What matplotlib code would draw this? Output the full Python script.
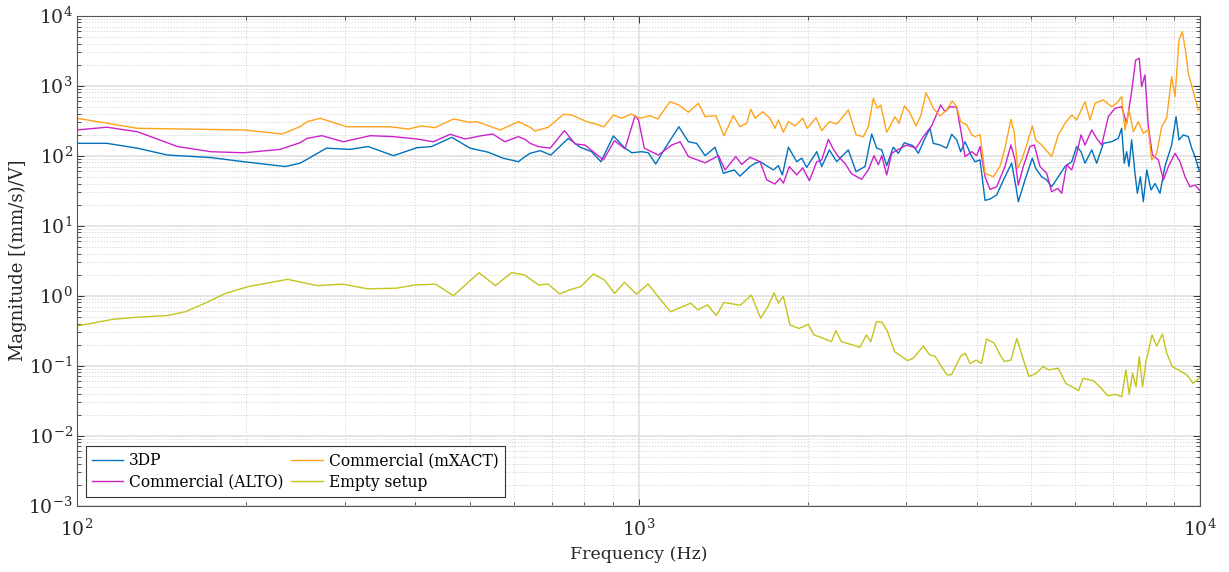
import numpy as np
import matplotlib
matplotlib.use('Agg')
from matplotlib import pyplot as plt
from matplotlib.ticker import LogLocator, NullFormatter, FixedLocator

# 3DP
f_3dp = [100, 113, 128, 145, 173, 198, 235, 249.5, 257, 278, 306, 330, 366, 403, 428, 465, 501, 540,
         574, 611, 628, 641, 668, 698, 750, 787, 825, 857, 902, 946, 973, 1013, 1041, 1073, 1115, 1180,
         1227, 1269, 1314, 1369, 1416, 1481, 1516, 1580, 1613, 1646, 1739, 1774, 1804, 1849, 1913, 1953,
         1993, 2077, 2120, 2187, 2254, 2364, 2440, 2532, 2602, 2656, 2711, 2767, 2843, 2902, 2975, 3086,
         3150, 3237, 3304, 3350, 3443, 3538, 3612, 3687, 3748, 3815, 3922, 3975, 4057, 4141, 4227, 4344,
         4494, 4619, 4696, 4747, 4879, 5027, 5097, 5224, 5332, 5442, 5594, 5749, 5909, 6031, 6139, 6240,
         6415, 6546, 6727, 6960, 7154, 7252, 7330, 7402, 7474, 7555, 7660, 7735, 7832, 7926, 8038, 8180,
         8318, 8487, 8660, 8903, 9065, 9175, 9340, 9533, 9665, 9797, 9960, 10000]
m_3dp = [150, 150, 128, 102, 94, 82, 70, 78, 89, 128, 123, 135, 100, 130, 135, 183, 128, 112,
         92, 82, 97, 108, 118, 102, 177, 132, 114, 82, 191, 128, 110, 114, 110, 76, 128, 259,
         158, 150, 100, 132, 56, 62.5, 51, 70, 78, 82, 62.5, 72, 53, 132, 82, 92,
         68, 114, 70, 121, 82, 121, 59, 70, 204, 128, 121, 72, 132, 108, 153, 138,
         108, 177, 246, 150, 142, 128, 202, 168, 114, 158, 97, 82, 87, 23, 24, 27.5,
         50, 78, 38, 22, 45, 92, 66, 50, 45, 36, 50, 70, 82, 135, 114, 78,
         121, 78, 150, 158, 177, 246, 78, 114, 70, 168, 56, 29, 50, 22, 62.5, 32.4,
         40, 29, 70, 142, 361, 168, 198, 187, 128, 97, 62.5, 60]

# Commercial (ALTO)
f_alto = [100, 113, 128, 151, 173, 198, 230, 249.5, 257, 273, 298, 333, 366, 403, 431, 462, 491, 522,
          550, 578, 611, 628, 641, 663, 696, 738, 771, 803, 837, 866, 906, 946, 986, 1000, 1024, 1084,
          1146, 1186, 1227, 1314, 1388, 1426, 1490, 1527, 1580, 1646, 1692, 1750, 1786, 1811, 1856, 1913,
          1961, 2015, 2077, 2120, 2178, 2218, 2269, 2331, 2396, 2496, 2566, 2627, 2674, 2711, 2767, 2824,
          2902, 3003, 3121, 3215, 3327, 3452, 3515, 3587, 3687, 3753, 3815, 3922, 4002, 4057, 4141, 4227,
          4344, 4494, 4606, 4683, 4747, 4845, 4980, 5069, 5188, 5332, 5442, 5580, 5672, 5789, 5909, 6031,
          6139, 6240, 6415, 6546, 6682, 6866, 7057, 7252, 7402, 7555, 7682, 7795, 7872, 7980, 8091, 8227,
          8431, 8606, 8784, 9026, 9213, 9404, 9598, 9797, 10000]
m_alto = [233, 255, 220, 135, 114, 110, 123, 153, 177, 193, 158, 193, 187, 173, 158, 202, 173, 191,
          204, 158, 187, 171, 150, 135, 128, 228, 147, 142, 108, 87, 164, 125, 373, 324, 128, 102,
          142, 158, 97, 79, 100, 62.5, 97, 75, 95, 82, 45, 39.4, 47.5, 40.4, 70, 53,
          67, 44, 82, 87, 171, 128, 97, 78, 55, 46, 62.5, 100, 74, 100, 53, 108,
          123, 142, 128, 187, 266, 529, 425, 501, 491, 220, 97, 114, 100, 135, 50, 33,
          36, 70, 142, 87, 38, 70, 135, 142, 70, 56, 30.6, 34, 29, 74, 62.5, 108,
          198, 142, 233, 177, 142, 361, 475, 501, 290, 820, 2330, 2460, 968, 1422, 259, 102,
          87, 45, 70, 108, 82, 50, 36, 38, 31.6]

# Commercial (mXACT)
f_mxact = [100, 128, 198, 232, 249.5, 257, 271, 302, 361, 389, 411, 434, 468, 501, 515, 567, 611, 628,
           641, 654, 691, 735, 760, 809, 842, 868, 902, 933, 970, 1006, 1048, 1082, 1138, 1180, 1227, 1278,
           1314, 1373, 1420, 1475, 1516, 1558, 1585, 1613, 1664, 1715, 1750, 1774, 1811, 1849, 1900, 1961,
           1998, 2071, 2120, 2187, 2254, 2301, 2364, 2440, 2514, 2566, 2619, 2662, 2700, 2767, 2863, 2910,
           2975, 3036, 3121, 3185, 3251, 3350, 3443, 3538, 3620, 3687, 3748, 3842, 3922, 3975, 4057, 4141,
           4284, 4403, 4494, 4606, 4670, 4734, 4813, 4913, 5027, 5097, 5224, 5442, 5594, 5749, 5909, 6031,
           6240, 6370, 6501, 6727, 6960, 7105, 7252, 7351, 7474, 7607, 7765, 7926, 8091, 8202, 8372, 8546,
           8722, 8903, 9026, 9175, 9300, 9430, 9533, 9730, 9930, 10000]
m_mxact = [342, 246, 233, 204, 260, 306, 342, 259, 259, 240, 266, 251, 334, 300, 306, 233, 306, 275,
           255, 225, 255, 390, 381, 306, 281, 259, 381, 342, 394, 342, 373, 334, 590, 529, 417, 561,
           361, 373, 193, 373, 259, 290, 460, 342, 425, 342, 246, 324, 216, 306, 266, 342,
           246, 349, 228, 306, 284, 342, 450, 198, 187, 259, 661, 475, 529, 216, 361, 290,
           513, 425, 266, 381, 794, 475, 369, 450, 604, 501, 306, 275, 198, 187, 200, 56,
           50, 70, 128, 331, 209, 66, 87, 142, 266, 168, 142, 97, 198, 290, 381, 324,
           590, 324, 561, 625, 501, 561, 697, 233, 450, 220, 306, 209, 233, 87, 108, 259,
           342, 1345, 697, 4500, 5900, 3060, 1500, 820, 450, 450]

# Empty setup
f_empty = [100, 116, 127, 145, 156, 169, 184, 202, 237, 268, 297, 330, 371, 400, 435, 468, 520, 556,
           594, 626, 664, 690, 724, 754, 789, 831, 869, 907, 944, 992, 1040, 1089, 1140, 1239, 1276, 1326,
           1376, 1419, 1518, 1588, 1650, 1700, 1744, 1774, 1811, 1861, 1932, 2006, 2052, 2109, 2206, 2246,
           2298, 2404, 2479, 2546, 2592, 2652, 2712, 2775, 2859, 3014, 3083, 3216, 3300, 3375, 3477, 3541,
           3609, 3751, 3818, 3896, 3996, 4081, 4168, 4297, 4406, 4481, 4608, 4717, 4848, 4959, 5111, 5257,
           5372, 5594, 5765, 6076, 6190, 6456, 6584, 6855, 7050, 7258, 7378, 7480, 7584, 7690, 7794, 7902,
           8012, 8215, 8370, 8572, 8726, 8922, 9195, 9477, 9720, 10000]
m_empty = [0.369, 0.46, 0.49, 0.52, 0.59, 0.78, 1.08, 1.35, 1.71, 1.39, 1.46, 1.25, 1.28, 1.42, 1.46, 1.0, 2.13, 1.39,
           2.13, 1.98, 1.42, 1.46, 1.06, 1.21, 1.35, 2.04, 1.68, 1.08, 1.55, 1.05, 1.47, 0.92, 0.59, 0.78, 0.625, 0.74,
           0.52, 0.8, 0.73, 1.02, 0.475, 0.7, 1.1, 0.78, 0.98, 0.38, 0.34, 0.39, 0.275, 0.255, 0.22, 0.316,
           0.22, 0.198, 0.183, 0.275, 0.22, 0.425, 0.42, 0.31, 0.158, 0.118, 0.127, 0.19, 0.142, 0.136, 0.092, 0.074,
           0.074, 0.138, 0.15, 0.107, 0.12, 0.107, 0.24, 0.21, 0.142, 0.115, 0.12, 0.245, 0.12, 0.07, 0.078, 0.097,
           0.087, 0.092, 0.056, 0.044, 0.066, 0.061, 0.053, 0.037, 0.039, 0.036, 0.087, 0.039, 0.078, 0.05, 0.134, 0.05,
           0.115, 0.275, 0.19, 0.283, 0.15, 0.097, 0.085, 0.074, 0.056, 0.068]

y_decades = [1e-3, 1e-2, 1e-1, 1e0, 1e1, 1e2, 1e3, 1e4]
x_decades = [1e2, 1e3, 1e4]

plt.rcParams['font.family'] = ['DejaVu Serif']
plt.rcParams['mathtext.fontset'] = 'dejavuserif'
plt.rcParams['font.size'] = 11

fig = plt.figure(figsize=(12.29, 5.72), dpi=100)
ax = fig.add_axes([0.0627, 0.116, 0.9137, 0.8566])

ax.loglog(f_3dp, m_3dp, color='#0072BD', lw=1.0, label='3DP')
ax.loglog(f_alto, m_alto, color='#CC22CC', lw=1.0, label='Commercial (ALTO)')
ax.loglog(f_mxact, m_mxact, color='#FFA31A', lw=1.0, label='Commercial (mXACT)')
ax.loglog(f_empty, m_empty, color='#C4C41C', lw=1.0, label='Empty setup')

ax.set_xlim(100, 10000)
ax.set_ylim(1e-3, 1e4)
ax.yaxis.set_major_locator(FixedLocator(y_decades))
ax.xaxis.set_major_locator(FixedLocator(x_decades))
ax.yaxis.set_minor_locator(LogLocator(base=10, subs=np.arange(2, 10), numticks=20))
ax.yaxis.set_minor_formatter(NullFormatter())
ax.xaxis.set_minor_formatter(NullFormatter())

# matlab-like grid
ax.grid(True, which='major', color='#dcdcdc', lw=1.1, ls='-')
ax.grid(True, which='minor', color='#d0d0d0', lw=0.6, ls=(0, (1.5, 2)))
ax.set_axisbelow(True)

ax.tick_params(which='both', direction='in', top=True, right=True, colors='#333333', labelcolor='#262626')
ax.tick_params(which='major', length=5, width=0.7, labelsize=13.5)
ax.tick_params(which='minor', length=3, width=0.6)
ax.tick_params(axis='x', which='major', pad=9)
ax.tick_params(axis='y', which='major', pad=3)
for s in ax.spines.values():
    s.set_color('#555555')
    s.set_linewidth(0.8)

ax.set_xlabel('Frequency (Hz)', fontsize=12.5, color='#262626', labelpad=5)
ax.set_ylabel('Magnitude [(mm/s)/V]', fontsize=13, color='#262626', labelpad=1)

leg = ax.legend(loc='lower left', ncol=2, fontsize=11.2, fancybox=False, framealpha=1,
                edgecolor='#333333', handlelength=2.0, borderaxespad=0.55,
                labelspacing=0.3, columnspacing=0.5, borderpad=0.4, handletextpad=0.4)
leg.get_frame().set_linewidth(0.8)

plt.savefig('out.png', dpi=100)
